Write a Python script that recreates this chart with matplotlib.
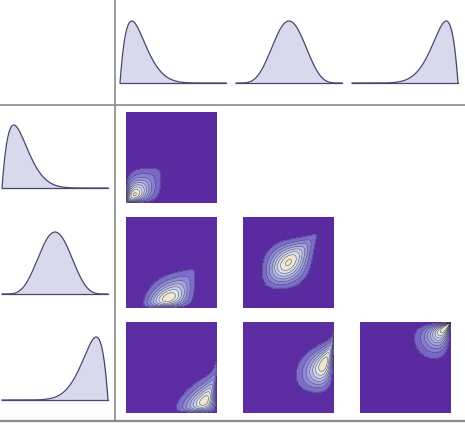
import numpy as np
import matplotlib
matplotlib.use("Agg")
import matplotlib.pyplot as plt
from matplotlib.colors import LinearSegmentedColormap
from matplotlib.lines import Line2D
from matplotlib.ticker import MaxNLocator
from math import lgamma

# Beta marginals (a, b) for the three variables, joined by a Gumbel copula
beta_a = [2.0, 6.0, 9.0]
beta_b = [9.0, 6.0, 2.0]
gumbel_theta = 1.3

W, H = 465, 424

fill_col = '#d9d9ee'
line_col = '#46466e'
grid_col = '#8a8a8a'
cmap = LinearSegmentedColormap.from_list('dens', [
    (0.0, '#5a2aa0'), (0.06, '#5a2aa0'), (0.1, '#7257c4'), (0.25, '#857bd2'),
    (0.4, '#9c99de'), (0.55, '#b4b7e6'), (0.7, '#cbd1ee'), (0.85, '#e2e8ea'),
    (1.0, '#f6e6c8')])


def beta_pdf(x, a, b):
    lb = lgamma(a) + lgamma(b) - lgamma(a + b)
    return np.exp((a - 1) * np.log(x) + (b - 1) * np.log1p(-x) - lb)


fine = np.linspace(1e-6, 1 - 1e-6, 4001)


def beta_cdf(x, a, b):
    p = beta_pdf(fine, a, b)
    c = np.concatenate([[0], np.cumsum((p[1:] + p[:-1]) / 2 * np.diff(fine))])
    c /= c[-1]
    return np.interp(x, fine, c)


def gumbel_density(u, v, th):
    u = np.clip(u, 1e-12, 1 - 1e-12)
    v = np.clip(v, 1e-12, 1 - 1e-12)
    lu, lv = -np.log(u), -np.log(v)
    A = lu ** th + lv ** th
    w = A ** (1 / th)
    return np.exp(-w) / (u * v) * (lu * lv) ** (th - 1) * (w + th - 1) / w ** (2 * th - 1)


def add_ax(x0, y0, w, h):
    return fig.add_axes([x0 / W, 1 - (y0 + h) / H, w / W, h / H])


fig = plt.figure(figsize=(W / 100, H / 100), dpi=100)

xs = np.linspace(0.0005, 0.9995, 400)


def density_panel(x0, ytop, ybase, k):
    ax = add_ax(x0, ytop, 106, ybase - ytop)
    p = beta_pdf(xs, beta_a[k], beta_b[k])
    xx = np.concatenate([[0], xs, [1]])
    pp = np.concatenate([[0], p, [0]])
    ax.fill_between(xx, 0, pp, color=fill_col, lw=0)
    ax.plot(xx, pp, color=line_col, lw=0.9, clip_on=False)
    ax.axhline(0, color=line_col, lw=0.9, clip_on=False)
    ax.set_xlim(0, 1)
    ax.set_ylim(0, p.max())
    ax.axis('off')


# top header row and left header column
for k, x0 in enumerate([120, 236, 352]):
    density_panel(x0, 21, 83, k)
for k, (yt, yb) in enumerate([(125, 188), (232, 294), (337, 400)]):
    density_panel(2, yt, yb, k)

# lower-triangle joint densities
g = np.linspace(0.002, 0.998, 300)
GX, GY = np.meshgrid(g, g)
col_x = [126, 243, 360]
row_y = [112, 217, 322]
for r in range(3):
    for c in range(r + 1):
        ax = add_ax(col_x[c], row_y[r], 91, 91)
        fx = beta_pdf(GX, beta_a[r], beta_b[r])
        fy = beta_pdf(GY, beta_a[c], beta_b[c])
        u = beta_cdf(GX, beta_a[r], beta_b[r])
        v = beta_cdf(GY, beta_a[c], beta_b[c])
        Z = gumbel_density(u, v, gumbel_theta) * fx * fy
        zmax = np.percentile(Z, 99.95)
        levels = MaxNLocator(10).tick_values(0, zmax)
        levels = levels[levels < zmax]
        levels = np.append(levels, zmax * 1.001)
        Zc = np.minimum(Z, zmax)
        ax.contourf(GX, GY, Zc, levels=levels, cmap=cmap, vmin=0, vmax=zmax)
        ax.contour(GX, GY, Zc, levels=levels[1:-1], colors='#2e2e4e', linewidths=0.4, alpha=0.8)
        ax.set_xlim(0, 1)
        ax.set_ylim(0, 1)
        ax.axis('off')

# grid dividers
fig.add_artist(Line2D([114.5 / W, 114.5 / W], [1, 1 - 421 / H], color=grid_col, lw=1.2))
fig.add_artist(Line2D([0, 1], [1 - 105 / H, 1 - 105 / H], color=grid_col, lw=1.2))
fig.add_artist(Line2D([0, 1], [1 - 421 / H, 1 - 421 / H], color=grid_col, lw=1.6))

fig.savefig('out.png', dpi=100)
